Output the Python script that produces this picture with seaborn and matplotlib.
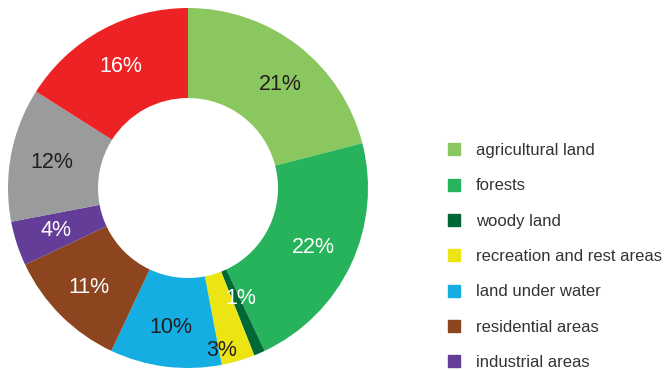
import matplotlib
matplotlib.use("Agg")
import matplotlib.pyplot as plt
from matplotlib.lines import Line2D
import numpy as np
import seaborn as sns

# Land use structure (share of total area, %)
categories = [
    "agricultural land",
    "forests",
    "woody land",
    "recreation and rest areas",
    "land under water",
    "residential areas",
    "industrial areas",
    "transport areas",
    "other areas",
]
shares = [21, 22, 1, 3, 10, 11, 4, 12, 16]
colors = [
    "#8AC75F", "#27B25C", "#006837", "#EDE513", "#14AEE2",
    "#8C451E", "#633D98", "#999B9C", "#ED2224",
]
label_colors = ["#231F20", "white", "white", "#231F20", "#231F20",
                "white", "white", "#231F20", "white"]
# radial position of each percentage label (fraction of outer radius)
label_radius = [0.77, 0.77, 0.68, 0.92, 0.78, 0.78, 0.77, 0.77, 0.77]
# small angular nudges (degrees) for crowded labels
label_shift = [-4, 0, 2, -4.4, 0, 0, 0, 0, 0]
# only the first seven categories fit in the legend column
n_legend = 7

sns.set_theme(style="white")
plt.rcParams["font.family"] = ["Liberation Sans", "DejaVu Sans"]

fig = plt.figure(figsize=(6.65, 3.70), dpi=100)
ax = fig.add_axes([8 / 665, 2 / 370, 360 / 665, 360 / 370])

wedges, _ = ax.pie(
    shares,
    colors=colors,
    startangle=90,
    counterclock=False,
    radius=1.0,
    wedgeprops=dict(width=0.5, linewidth=0),
)

# percentage labels placed at the middle angle of each wedge
for w, val, c, r, s in zip(wedges, shares, label_colors, label_radius, label_shift):
    ang = np.deg2rad((w.theta1 + w.theta2) / 2 + s)
    ax.text(r * np.cos(ang), r * np.sin(ang), f"{val}%",
            ha="center", va="center", fontsize=15.5, color=c)

ax.set_xlim(-1, 1)
ax.set_ylim(-1, 1)
ax.set_aspect("equal")
ax.axis("off")

handles = [Line2D([0], [0], marker="s", linestyle="none", markersize=8,
                  markerfacecolor=col, markeredgecolor=col)
           for col in colors[:n_legend]]
leg = fig.legend(
    handles, categories[:n_legend],
    loc="upper left",
    bbox_to_anchor=(446 / 665, 1 - 143 / 370),
    frameon=False,
    fontsize=12,
    labelspacing=1.22,
    handlelength=1.0,
    handletextpad=0.8,
    borderaxespad=0,
    borderpad=0,
)
for t in leg.get_texts():
    t.set_color("#333333")

fig.savefig("out.png", dpi=100)
